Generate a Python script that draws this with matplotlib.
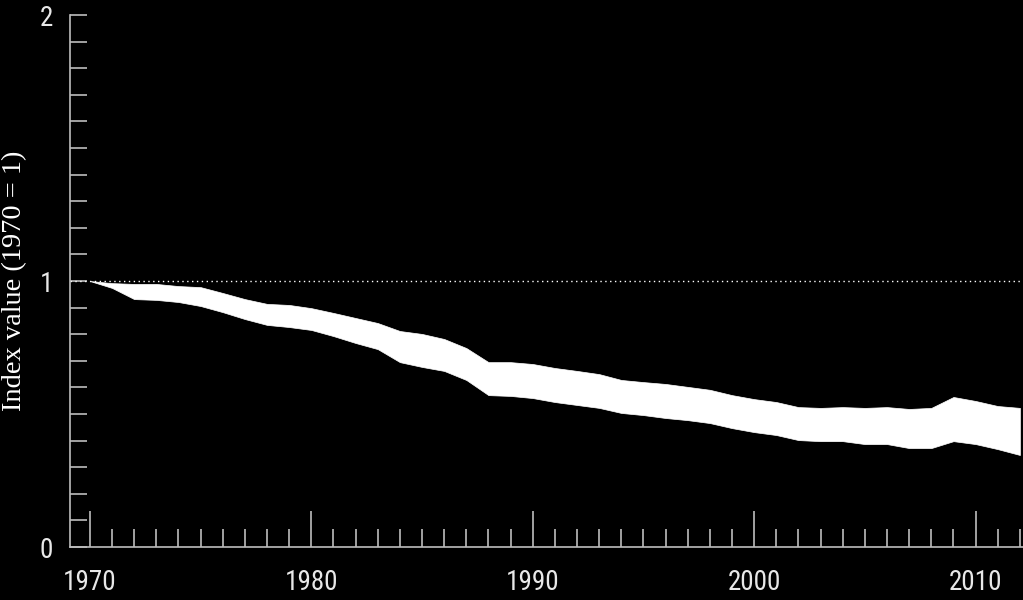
import numpy as np
import matplotlib
matplotlib.use("Agg")
import matplotlib.pyplot as plt
from matplotlib import font_manager
from matplotlib.ticker import MultipleLocator

years = np.arange(1970, 2013)
upper = [1.000, 0.992, 0.989, 0.989, 0.981, 0.977, 0.955, 0.932, 0.914, 0.910,
         0.898, 0.880, 0.861, 0.842, 0.812, 0.801, 0.782, 0.748, 0.695, 0.695,
         0.688, 0.673, 0.662, 0.650, 0.628, 0.620, 0.613, 0.602, 0.591, 0.571,
         0.556, 0.545, 0.526, 0.523, 0.526, 0.523, 0.526, 0.519, 0.523, 0.564,
         0.549, 0.530, 0.523]
lower = [1.000, 0.974, 0.932, 0.929, 0.921, 0.906, 0.883, 0.857, 0.835, 0.827,
         0.816, 0.793, 0.767, 0.744, 0.695, 0.677, 0.662, 0.628, 0.571, 0.568,
         0.560, 0.545, 0.534, 0.523, 0.504, 0.496, 0.485, 0.477, 0.466, 0.447,
         0.432, 0.421, 0.402, 0.398, 0.398, 0.387, 0.387, 0.372, 0.372, 0.398,
         0.387, 0.368, 0.346]
xticklabels = ['1970', '1980', '1990', '2000', '2010']
yticklabels = ['0', '1', '2']


def pick_font(names):
    for n in names:
        try:
            font_manager.findfont(font_manager.FontProperties(family=n), fallback_to_default=False)
            return n
        except ValueError:
            pass
    return 'DejaVu Sans'


tickfont = pick_font(['Liberation Sans Narrow', 'DejaVu Sans Condensed', 'Roboto Condensed', 'Roboto'])
narrow = tickfont != 'Roboto'
tsize = 19.5 if narrow else 17
axcol = '#bdbdbd'

fig = plt.figure(figsize=(10.23, 6.0), dpi=100, facecolor='black')
ax = fig.add_axes([0.0684, 0.0883, 0.9316, 0.8867], facecolor='black')

ax.fill_between(years, lower, upper, color='white', lw=0.5, edgecolor='white')
ax.axhline(1, color='white', ls=(0, (1, 2.5)), lw=1)

ax.set_xlim(1969.1, 2012.14)
ax.set_ylim(0, 2)

for s in ['top', 'right']:
    ax.spines[s].set_visible(False)
for s in ['left', 'bottom']:
    ax.spines[s].set_color(axcol)
    ax.spines[s].set_linewidth(1.2)

ax.set_xticks([1970, 1980, 1990, 2000, 2010])
ax.set_xticklabels(xticklabels, fontfamily=tickfont, fontsize=tsize, color='#e8e8e8')
ax.xaxis.set_minor_locator(MultipleLocator(1))
ax.set_yticks([0, 1, 2])
ax.set_yticklabels(yticklabels, fontfamily=tickfont, fontsize=tsize, color='#e8e8e8')
ax.yaxis.set_minor_locator(MultipleLocator(0.1))

ax.tick_params(axis='x', which='major', direction='in', length=26, width=1.2, color=axcol, pad=16)
ax.tick_params(axis='x', which='minor', direction='in', length=13, width=1.2, color=axcol)
ax.tick_params(axis='y', which='both', direction='in', length=12, width=1.2, color=axcol, pad=12)

fig.text(0.014, 0.532, 'Index value (1970 = 1)', rotation=90, ha='center', va='center',
         fontfamily=['Liberation Serif', 'DejaVu Serif'], fontsize=20.5, color='white')

fig.savefig('out.png', dpi=100, facecolor='black')
